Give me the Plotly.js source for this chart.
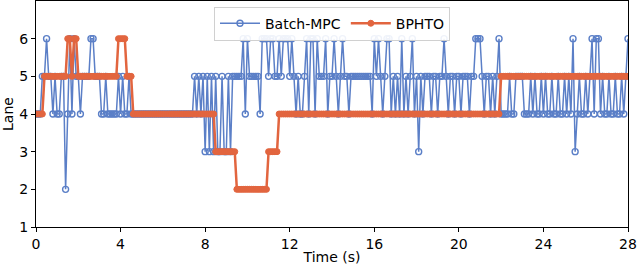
<!DOCTYPE html>
<html><head><meta charset="utf-8">
<script src="https://cdn.plot.ly/plotly-3.0.1.min.js"></script>
<style>html,body{margin:0;padding:0;background:#fff}#c{width:640px;height:268px}</style>
</head><body><div id="c"></div>
<script>
// time step 0.1 s, t = 0.0 ... 28.0
const tStart = 0, tStep = 0.1;
const batchMPC = [
4,4,4,5,5,6,5,5,4,5,
4,4,5,5,2,4,6,4,6,5,
5,4,5,5,5,5,6,6,5,5,
5,4,4,5,4,4,4,4,4,5,
4,5,4,4,5,4,4,4,4,4,
4,4,4,4,4,4,4,4,4,4,
4,4,4,4,4,4,4,4,4,4,
4,4,4,4,4,5,4,5,4,5,
3,5,3,5,3,5,3,3,5,3,
3,5,3,5,5,5,5,5,6,4,
6,5,5,5,5,5,4,6,6,6,
5,6,6,5,5,6,5,6,6,6,
5,6,5,4,5,4,4,5,6,4,
6,6,4,6,5,5,5,6,4,5,
5,6,5,4,5,6,5,5,4,5,
5,5,5,5,5,5,5,5,5,4,
6,5,6,5,4,5,6,6,4,5,
4,5,4,6,4,5,4,5,6,4,
5,3,5,4,5,5,5,4,5,5,
4,5,5,6,5,4,5,5,4,5,
5,4,5,5,5,4,5,5,6,6,
6,5,4,5,5,4,5,4,5,6,
4,4,4,4,5,4,4,5,5,5,
5,4,4,4,5,4,5,4,4,5,
4,5,4,4,5,4,4,5,4,4,
5,4,5,4,6,3,4,5,4,4,
5,4,5,6,4,6,6,4,5,4,
4,5,4,4,5,4,4,5,4,5,
6
];
const bphto = [
4,4,4,4,5,5,5,5,5,5,
5,5,5,5,5,6,6,5,6,6,
5,5,5,5,5,5,5,5,5,5,
5,5,5,5,5,5,5,5,5,6,
6,6,6,5,5,5,4,4,4,4,
4,4,4,4,4,4,4,4,4,4,
4,4,4,4,4,4,4,4,4,4,
4,4,4,4,4,4,4,4,4,4,
4,4,4,4,4,3,3,3,3,3,
3,3,3,3,3,2,2,2,2,2,
2,2,2,2,2,2,2,2,2,2,
3,3,3,3,3,4,4,4,4,4,
4,4,4,4,4,4,4,4,4,4,
4,4,4,4,4,4,4,4,4,4,
4,4,4,4,4,4,4,4,4,4,
4,4,4,4,4,4,4,4,4,4,
4,4,4,4,4,4,4,4,4,4,
4,4,4,4,4,4,4,4,4,4,
4,4,4,4,4,4,4,4,4,4,
4,4,4,4,4,4,4,4,4,4,
4,4,4,4,4,4,4,4,4,4,
4,4,4,4,4,4,4,4,4,4,
5,5,5,5,5,5,5,5,5,5,
5,5,5,5,5,5,5,5,5,5,
5,5,5,5,5,5,5,5,5,5,
5,5,5,5,5,5,5,5,5,5,
5,5,5,5,5,5,5,5,5,5,
5,5,5,5,5,5,5,5,5,5,
5
];
const xTicks = [0,4,8,12,16,20,24,28];
const yTicks = [1,2,3,4,5,6];
const names = ["Batch-MPC","BPHTO"];

const times = batchMPC.map((_, i) => +(tStart + i * tStep).toFixed(1));
const blue = '#5B7FC7', orange = '#E2653F';
const traces = [
  {x: times, y: batchMPC, name: names[0], mode: 'lines+markers', type: 'scatter',
   line: {color: blue, width: 1.5},
   marker: {symbol: 'circle-open', size: 6, color: blue, line: {width: 1.4, color: blue}}},
  {x: times, y: bphto, name: names[1], mode: 'lines+markers', type: 'scatter',
   line: {color: orange, width: 2.5},
   marker: {symbol: 'circle', size: 6, color: orange, line: {width: 1, color: orange}}}
];
const font = {family: 'DejaVu Sans, sans-serif', size: 14, color: '#000'};
const layout = {
  width: 640, height: 268,
  margin: {l: 36, r: 12, t: 1, b: 41},
  paper_bgcolor: '#fff', plot_bgcolor: '#fff',
  font: font,
  showlegend: true,
  legend: {orientation: 'h', x: 0.5, xanchor: 'center', y: 0.975, yanchor: 'top',
    bgcolor: 'rgba(255,255,255,0.9)', bordercolor: '#d0d0d0', borderwidth: 1,
    font: font, itemwidth: 40},
  xaxis: {range: [0, 28], tickvals: xTicks, ticktext: xTicks.map(String),
    showgrid: false, zeroline: false, showline: true, mirror: true, linecolor: '#000', linewidth: 1,
    ticks: 'outside', ticklen: 4, tickcolor: '#000', tickfont: font,
    title: {text: 'Time (s)', font: font, standoff: 1}},
  yaxis: {range: [1, 7], tickvals: yTicks, ticktext: yTicks.map(String),
    showgrid: false, zeroline: false, showline: true, mirror: true, linecolor: '#000', linewidth: 1,
    ticks: 'outside', ticklen: 4, tickcolor: '#000', tickfont: font,
    title: {text: 'Lane', font: font, standoff: 5}}
};
Plotly.newPlot('c', traces, layout, {displayModeBar: false, staticPlot: true});
</script></body></html>
